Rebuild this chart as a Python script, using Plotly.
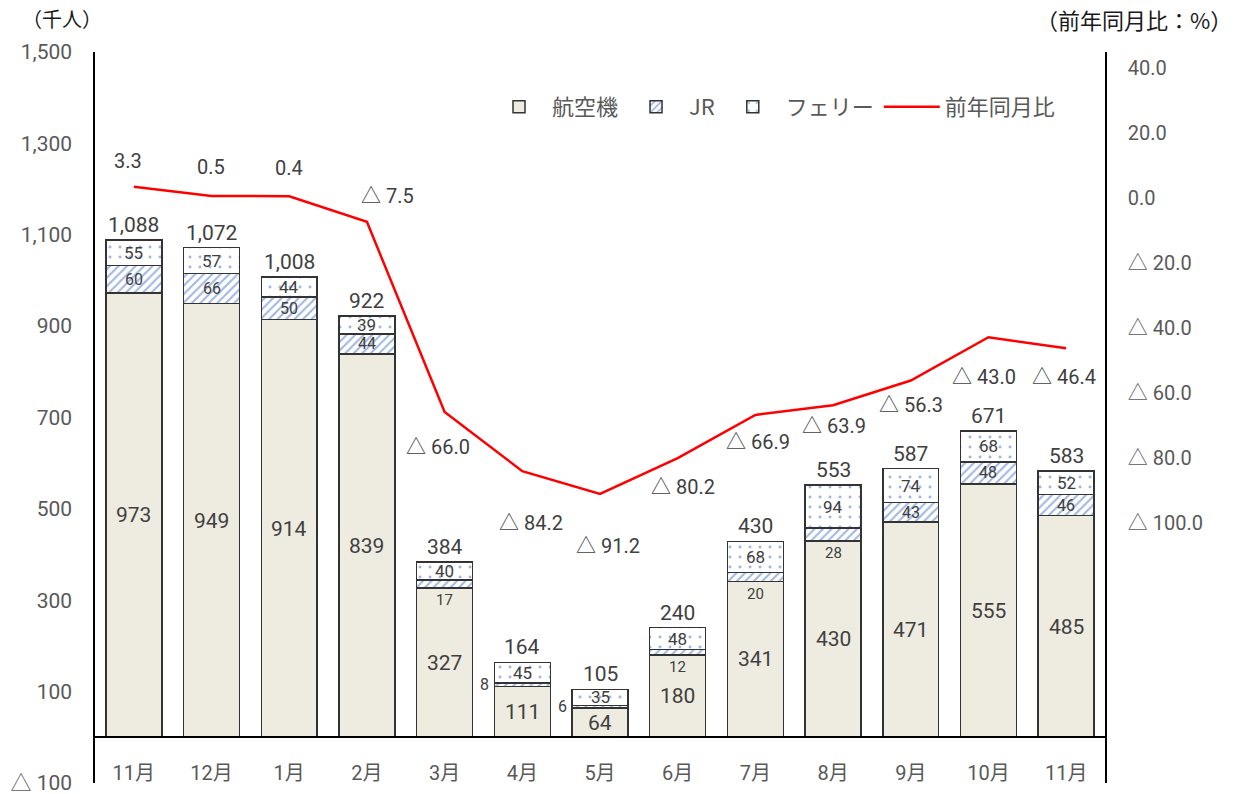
import plotly.graph_objects as go

months = ["11月", "12月", "1月", "2月", "3月", "4月", "5月", "6月", "7月", "8月", "9月", "10月", "11月"]
air = [973, 949, 914, 839, 327, 111, 64, 180, 341, 430, 471, 555, 485]
jr = [60, 66, 50, 44, 17, 8, 6, 12, 20, 28, 43, 48, 46]
ferry = [55, 57, 44, 39, 40, 45, 35, 48, 68, 94, 74, 68, 52]
totals = [1088, 1072, 1008, 922, 384, 164, 105, 240, 430, 553, 587, 671, 583]
ratio = [3.3, 0.5, 0.4, -7.5, -66.0, -84.2, -91.2, -80.2, -66.9, -63.9, -56.3, -43.0, -46.4]

left_ticks = [-100, 100, 300, 500, 700, 900, 1100, 1300, 1500]
right_ticks = [40, 20, 0, -20, -40, -60, -80, -100]

# label placement styles (pixels)
ratio_shift = [(-6, 26), (-1, 29), (0, 28), (21, 26), (-7, -35), (9, -52), (8, -52),
               (5, -29), (3, -27), (1, -21), (0, -25), (-4, -40), (-2, -29)]
jr_mode = ["c", "c", "c", "c", "below", "left", "left", "below", "below", "below", "c", "c", "c"]

CJK = "Noto Sans CJK JP"
NUM = "Roboto, 'Noto Sans CJK JP'"
TXT = "#404040"
TICK = "#595959"
x = list(range(len(months)))

def fmt(v):
    return f"{v:,}"

def tri(v):
    return f"{v:.1f}" if v >= 0 else f"△ {abs(v):.1f}"

fig = go.Figure()
line_style = dict(color="#333333", width=1.5)
fig.add_trace(go.Bar(x=x, y=air, name="航空機", width=0.72,
                     marker=dict(color="#EEECE1", line=line_style)))
fig.add_trace(go.Bar(x=x, y=jr, name="JR", width=0.72,
                     marker=dict(color="white", line=line_style,
                                 pattern=dict(shape="/", fgcolor="#3F6FC2", bgcolor="white",
                                              size=6, solidity=0.35))))
fig.add_trace(go.Bar(x=x, y=ferry, name="フェリー", width=0.72,
                     marker=dict(color="white", line=line_style,
                                 pattern=dict(shape=".", fgcolor="#3F6FC2", bgcolor="white",
                                              size=10, solidity=0.07))))
fig.add_trace(go.Scatter(x=x, y=ratio, name="前年同月比", yaxis="y2", mode="lines",
                         line=dict(color="#FF0000", width=2.5)))

for i in x:
    fig.add_annotation(x=i, y=air[i] / 2, xref="x", yref="y", text=str(air[i]), showarrow=False,
                       font=dict(size=21, color=TXT, family=NUM))
    if jr_mode[i] == "c":
        fig.add_annotation(x=i, y=air[i] + jr[i] / 2, xref="x", yref="y", text=str(jr[i]),
                           showarrow=False, font=dict(size=16, color=TXT, family=NUM))
    elif jr_mode[i] == "below":
        fig.add_annotation(x=i, y=air[i], xref="x", yref="y", yshift=-12, text=str(jr[i]),
                           showarrow=False, font=dict(size=15, color=TXT, family=NUM))
    else:
        fig.add_annotation(x=i, y=air[i] + jr[i] / 2, xref="x", yref="y", xshift=-38, text=str(jr[i]),
                           showarrow=False, font=dict(size=16, color=TXT, family=NUM))
    fig.add_annotation(x=i, y=air[i] + jr[i] + ferry[i] / 2, xref="x", yref="y", text=str(ferry[i]),
                       showarrow=False, font=dict(size=17, color=TXT, family=NUM))
    fig.add_annotation(x=i, y=air[i] + jr[i] + ferry[i], xref="x", yref="y", yshift=15,
                       text=fmt(totals[i]), showarrow=False, font=dict(size=21, color=TXT, family=NUM))
    dx, dy = ratio_shift[i]
    fig.add_annotation(x=i, y=ratio[i], xref="x", yref="y2", xshift=dx, yshift=dy, text=tri(ratio[i]),
                       showarrow=False, font=dict(size=20, color=TXT, family=NUM))

W, H = 1233, 794
L, R, T, B = 95, 128, 52, 11
pw, ph = W - L - R, H - T - B

def px(xp):
    return (xp - L) / pw

def py(yp):
    return (H - B - yp) / ph

fig.add_annotation(x=px(62), y=py(19), xref="paper", yref="paper", xanchor="center", yanchor="middle",
                   text="（千人）", showarrow=False, font=dict(size=20, color="#1a1a1a", family=CJK))
fig.add_annotation(x=px(1134), y=py(19), xref="paper", yref="paper", xanchor="center", yanchor="middle",
                   text="（前年同月比：%）", showarrow=False,
                   font=dict(size=22, color="#1a1a1a", family=CJK))

fig.update_layout(
    width=W, height=H,
    margin=dict(l=L, r=R, t=T, b=B, autoexpand=False),
    paper_bgcolor="white", plot_bgcolor="white",
    barmode="stack",
    font=dict(family=CJK, color=TICK),
    showlegend=True,
    legend=dict(orientation="h", x=px(486), y=py(107), xanchor="left", yanchor="middle",
                font=dict(size=22, color=TICK, family=CJK), bgcolor="rgba(0,0,0,0)",
                traceorder="normal", itemwidth=56),
    xaxis=dict(range=[-0.5, 12.5], tickvals=x, ticktext=months, anchor="free", position=100 / 1600,
               showline=True, linecolor="black", linewidth=1.5, ticks="", showgrid=False,
               zeroline=False, ticklabelstandoff=18, automargin=False,
               tickfont=dict(size=20, color=TICK, family=NUM)),
    yaxis=dict(range=[-100, 1500], tickvals=left_ticks,
               ticktext=["△ 100" if v < 0 else fmt(v) for v in left_ticks],
               showline=True, linecolor="black", linewidth=1.5, ticks="", showgrid=False,
               zeroline=False, ticklabelstandoff=17, automargin=False, ticklabeloverflow="allow",
               tickfont=dict(size=21, color=TICK, family=NUM)),
    yaxis2=dict(range=[-180.15, 44.77], overlaying="y", side="right", tickvals=right_ticks,
                ticktext=[tri(v) for v in right_ticks],
                showline=True, linecolor="black", linewidth=1.5, ticks="", showgrid=False,
                zeroline=False, ticklabelstandoff=17, automargin=False, ticklabeloverflow="allow",
                tickfont=dict(size=20, color=TICK, family=NUM)),
)

fig.write_html("out.html", config={"displayModeBar": False},
               post_script="document.body.style.margin='0px';")
